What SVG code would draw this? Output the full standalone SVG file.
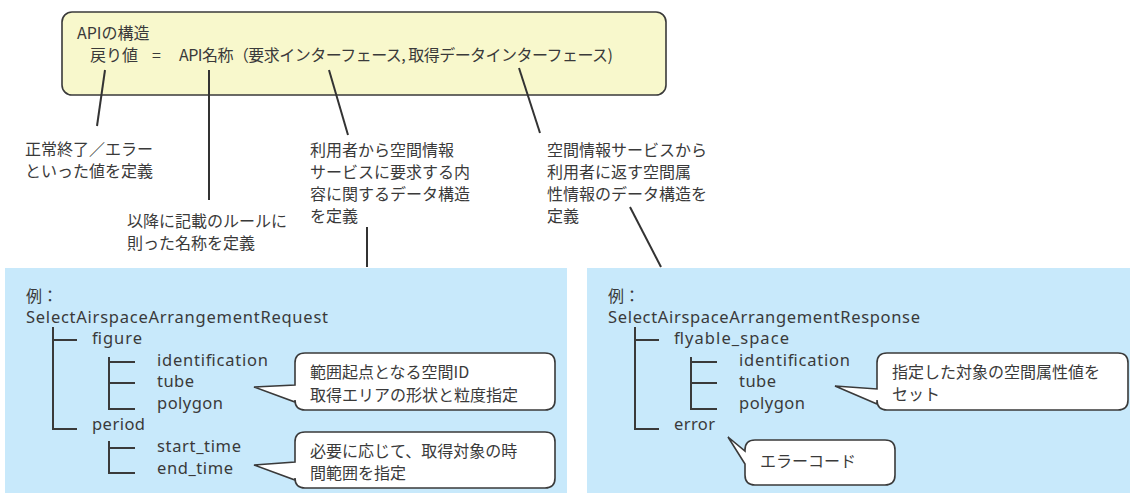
<svg xmlns="http://www.w3.org/2000/svg" width="1137" height="495" viewBox="0 0 1137 495">
<style>
.jp{font-family:"Noto Sans CJK JP","Noto Sans",sans-serif;font-size:16px;fill:#3a3a3a}
.lat{font-family:"Noto Sans","Open Sans",sans-serif;font-size:16.5px;fill:#3a3a3a}
.ln{stroke:#333;stroke-width:2;fill:none}
.tree{stroke:#3a3a3a;stroke-width:2;fill:none}
.call{fill:#fff;stroke:#3a3a3a;stroke-width:1.6}
</style>
<rect width="1137" height="495" fill="#fff"/>
<g id="api-structure">
<rect x="62" y="12" width="604" height="83" rx="10" fill="#f8f8cc" stroke="#3a3a3a" stroke-width="1.6"/>
<text class="jp" x="77" y="39">APIの構造</text>
<text class="jp" x="90" y="61">戻り値</text>
<text class="jp" x="152" y="61">=</text>
<text class="jp" x="179" y="61" textLength="434">API名称（要求インターフェース, 取得データインターフェース)</text>
</g>
<g id="connectors">
<line class="ln" x1="105" y1="70" x2="97" y2="126"/>
<line class="ln" x1="209" y1="70" x2="209" y2="200"/>
<line class="ln" x1="329" y1="70" x2="348" y2="135"/>
<line class="ln" x1="519" y1="68" x2="540" y2="133"/>
<line class="ln" x1="367" y1="227" x2="367" y2="267"/>
<line class="ln" x1="630" y1="207" x2="661" y2="267"/>
</g>
<g id="note-return">
<text class="jp" x="25" y="155">正常終了／エラー</text>
<text class="jp" x="25" y="177">といった値を定義</text>
</g>
<g id="note-name">
<text class="jp" x="127" y="227">以降に記載のルールに</text>
<text class="jp" x="127" y="249">則った名称を定義</text>
</g>
<g id="note-request">
<text class="jp" x="310" y="156">利用者から空間情報</text>
<text class="jp" x="310" y="178">サービスに要求する内</text>
<text class="jp" x="310" y="200">容に関するデータ構造</text>
<text class="jp" x="310" y="222">を定義</text>
</g>
<g id="note-response">
<text class="jp" x="547" y="156">空間情報サービスから</text>
<text class="jp" x="547" y="178">利用者に返す空間属</text>
<text class="jp" x="547" y="200">性情報のデータ構造を</text>
<text class="jp" x="547" y="222">定義</text>
</g>
<g id="request-example">
<rect x="5" y="268" width="562" height="225" fill="#c8e9fb"/>
<text class="jp" x="26" y="302">例：</text>
<text class="lat" x="26" y="323" textLength="302">SelectAirspaceArrangementRequest</text>
<path class="tree" d="M53 327V429H77M53 340H77M109 357V409H135M109 362H135M109 383H135M109 441V473H135M109 448H135"/>
<text class="lat" x="92" y="344" textLength="50">figure</text>
<text class="lat" x="157" y="366" textLength="111">identification</text>
<text class="lat" x="157" y="387" textLength="37">tube</text>
<text class="lat" x="157" y="409" textLength="66">polygon</text>
<text class="lat" x="92" y="430" textLength="53">period</text>
<text class="lat" x="157" y="452" textLength="84">start_time</text>
<text class="lat" x="157" y="474" textLength="76">end_time</text>
</g>
<g id="request-note-1">
<path class="call" d="M305 353H545Q555 353 555 363V400Q555 410 545 410H305Q295 410 295 400V402L254 387L295 385V363Q295 353 305 353Z"/>
<text class="jp" x="310" y="378">範囲起点となる空間ID</text>
<text class="jp" x="310" y="401">取得エリアの形状と粒度指定</text>
</g>
<g id="request-note-2">
<path class="call" d="M305 432H545Q555 432 555 442V478Q555 488 545 488H305Q295 488 295 478V480L254 465L295 462V442Q295 432 305 432Z"/>
<text class="jp" x="310" y="457">必要に応じて、取得対象の時</text>
<text class="jp" x="310" y="479">間範囲を指定</text>
</g>
<g id="response-example">
<rect x="587" y="268" width="543" height="225" fill="#c8e9fb"/>
<text class="jp" x="608" y="302">例：</text>
<text class="lat" x="608" y="323" textLength="312">SelectAirspaceArrangementResponse</text>
<path class="tree" d="M635 327V429H659M635 340H659M691 357V409H717M691 362H717M691 383H717"/>
<text class="lat" x="674" y="344" textLength="115">flyable_space</text>
<text class="lat" x="739" y="366" textLength="111">identification</text>
<text class="lat" x="739" y="387" textLength="37">tube</text>
<text class="lat" x="739" y="409" textLength="66">polygon</text>
<text class="lat" x="674" y="430" textLength="41">error</text>
</g>
<g id="response-note-1">
<path class="call" d="M887 353H1118Q1128 353 1128 363V400Q1128 410 1118 410H887Q877 410 877 400V404L835 386L877 389V363Q877 353 887 353Z"/>
<text class="jp" x="892" y="378">指定した対象の空間属性値を</text>
<text class="jp" x="892" y="400">セット</text>
</g>
<g id="response-note-2">
<path class="call" d="M755 440H885Q895 440 895 450V475Q895 485 885 485H755Q745 485 745 475V464L728 437L745 451V450Q745 440 755 440Z"/>
<text class="jp" x="760" y="467">エラーコード</text>
</g>
</svg>
